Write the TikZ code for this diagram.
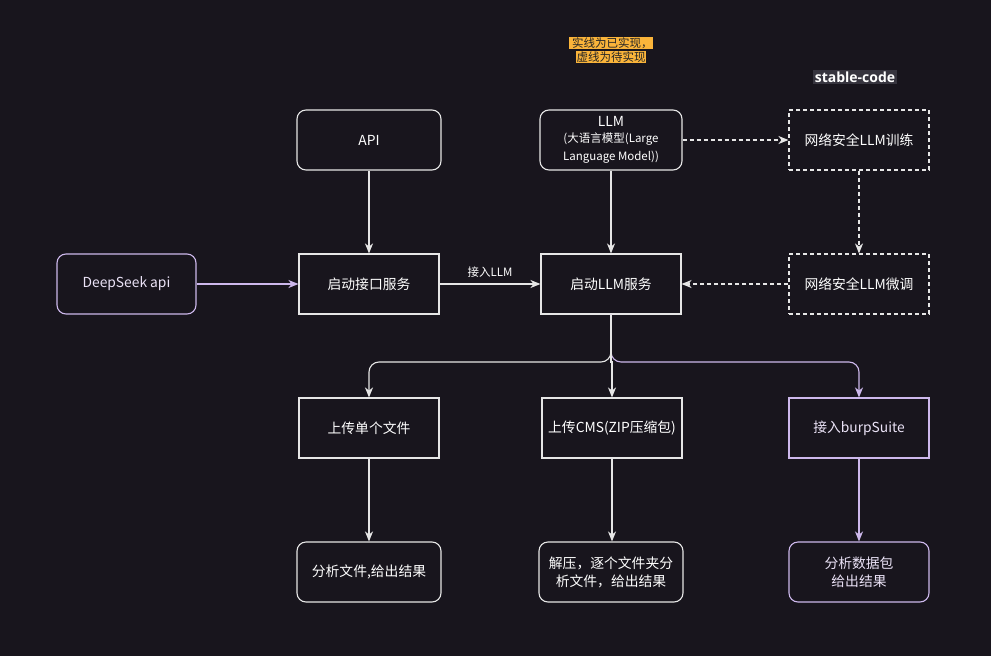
\documentclass[tikz,border=0pt]{standalone}
\usepackage{fontspec}
\setmainfont{Noto Sans CJK SC}
\newfontfamily\latinbold{Open Sans}
\usetikzlibrary{arrows.meta}
\definecolor{bgc}{HTML}{18151D}
\definecolor{edgec}{HTML}{E6E6E6}
\definecolor{purp}{HTML}{CDB8EC}
\definecolor{orangec}{HTML}{FAB43A}
\definecolor{greybg}{HTML}{36343E}
\tikzset{
  base/.style={minimum width=140pt, minimum height=60pt, inner sep=2pt, align=center,
    draw=edgec, fill=bgc, text=white, line width=1.1pt, font=\fontsize{13.8}{18}\selectfont},
  rbox/.style={base, rounded corners=9pt, minimum width=144pt},
  sbox/.style={base},
  dbox/.style={base, dash pattern=on 4pt off 3pt},
  pbox/.style={draw=purp, text=purp!40!white},
  arr/.style={draw=edgec, line width=1.1pt, -{Stealth[length=10pt,width=8pt,inset=3pt]}},
  parr/.style={arr, draw=purp, -{Stealth[length=10pt,width=8pt,inset=3pt,fill=purp]}},
  darr/.style={arr, dash pattern=on 4pt off 3pt},
}
\begin{document}
\begin{tikzpicture}[x=1pt,y=-1pt]
\fill[bgc] (0,0) rectangle (991,656);
\useasboundingbox (0,0) rectangle (991,656);

% legend
\node[fill=orangec, text=black!85, inner sep=0.8pt, font=\fontsize{11.5}{12}\selectfont, anchor=center] (leg1) at (611,43) {\ 实线为已实现，};
\node[fill=orangec, text=black!85, inner sep=0.8pt, font=\fontsize{11.5}{12}\selectfont, anchor=center] (leg2) at (611,57) {虚线为待实现};
\node[fill=greybg, text=white, inner xsep=1.5pt, inner ysep=2pt, font=\latinbold\bfseries\fontsize{14}{15}\selectfont] (sc) at (855,77) {stable-code};

% row 1
\node[rbox] (api) at (369,140) {API};
\node[rbox, minimum width=142pt] (llm) at (611,140) {LLM\\[-2pt]\fontsize{11.5}{17}\selectfont (大语言模型(Large\\\fontsize{11.5}{17}\selectfont Language Model))};
\node[dbox] (train) at (859,140) {网络安全LLM训练};

% row 2
\node[rbox, pbox, minimum width=139pt] (ds) at (126.5,284) {DeepSeek api};
\node[sbox] (iface) at (369,284) {启动接口服务};
\node[sbox] (llmsvc) at (611,284) {启动LLM服务};
\node[dbox] (tune) at (859,284) {网络安全LLM微调};

% row 3
\node[sbox] (single) at (369,428) {上传单个文件};
\node[sbox] (cms) at (612,428) {上传CMS(ZIP压缩包)};
\node[sbox, pbox] (burp) at (859,428) {接入burpSuite};

% row 4
\node[rbox] (res1) at (369,572) {分析文件,给出结果};
\node[rbox] (res2) at (611,572) {解压，逐个文件夹分\\析文件，给出结果};
\node[rbox, pbox, minimum width=140pt] (res3) at (859,572) {分析数据包\\给出结果};

% connectors
\draw[arr] (api) -- (iface);
\draw[arr] (llm) -- (llmsvc);
\draw[parr] (ds) -- (iface);
\draw[arr] (iface) -- node[above=3pt, text=white, font=\fontsize{11.5}{13}\selectfont] {接入LLM} (llmsvc);
\draw[darr] (llm) -- (train);
\draw[darr] (train) -- (tune);
\draw[darr] (tune) -- (llmsvc);

\coordinate (split) at (611,362);
\draw[arr, rounded corners=10pt] (llmsvc.south) -- (split) -| (single.north);
\draw[parr, rounded corners=10pt] (llmsvc.south) -- (split) -| (burp.north);
\draw[arr] (llmsvc.south) -- (split) -- (split -| cms.north) -- (cms.north);

\draw[arr] (single) -- (res1);
\draw[arr] (cms.south) -- (cms.south |- res2.north);
\draw[parr] (burp) -- (res3);
\end{tikzpicture}
\end{document}
